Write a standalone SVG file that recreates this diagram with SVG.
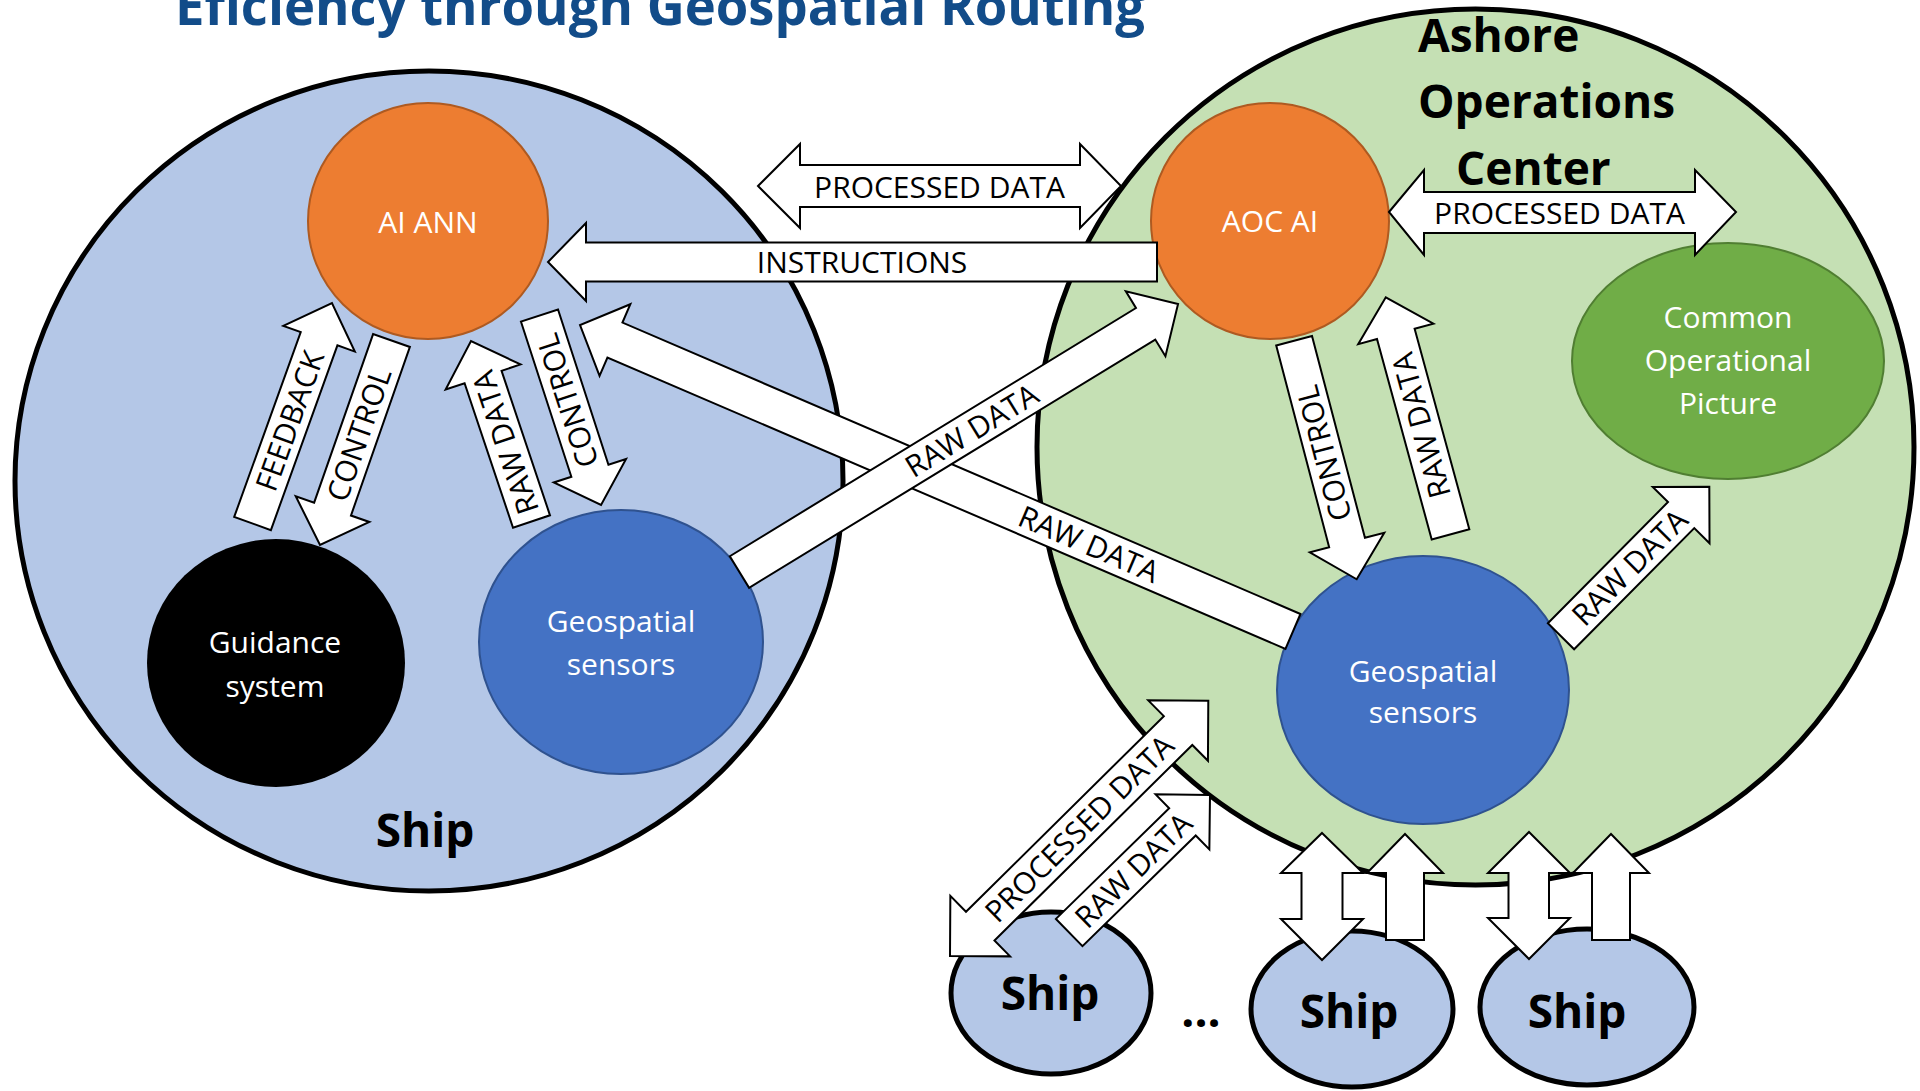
<svg xmlns="http://www.w3.org/2000/svg" width="1920" height="1091" viewBox="0 0 1920 1091">
<style>
.t{font-family:"Open Sans","Liberation Sans",sans-serif;font-size:30px;text-anchor:middle;fill:#000}
.w{fill:#fff}
.b{font-family:"Open Sans","Liberation Sans",sans-serif;font-weight:700;font-size:46px;fill:#000}
.ar{fill:#fff;stroke:#000;stroke-width:2;stroke-linejoin:miter}
.cont{stroke:#000;stroke-width:5}
.ship{fill:#B4C7E7}
.orange{fill:#ED7D31;stroke:#AE5A21;stroke-width:2}
.blue{fill:#4472C4;stroke:#2F528F;stroke-width:2}
</style>
<rect width="1920" height="1091" fill="#fff"/>
<text id="title" x="175" y="25" textLength="970" lengthAdjust="spacingAndGlyphs" style="font-family:'Open Sans','Liberation Sans',sans-serif;font-weight:700;font-size:53px;fill:#124C89">Eficiency through Geospatial Routing</text>

<g id="ship-main">
<ellipse cx="429" cy="481" rx="414" ry="410" class="cont ship"/>
<text x="425" y="847" class="b" text-anchor="middle">Ship</text>
</g>
<g id="aoc">
<ellipse cx="1475.5" cy="447" rx="438.5" ry="438" class="cont" fill="#C5E0B4"/>
<text class="b"><tspan x="1418" y="52">Ashore</tspan><tspan x="1418" y="118">Operations</tspan><tspan x="1456" y="185">Center</tspan></text>
</g>
<g id="ship-1">
<ellipse cx="1051" cy="993" rx="100" ry="81" class="cont ship"/>
<text x="1050" y="1010" class="b" text-anchor="middle">Ship</text>
</g>
<g id="ellipsis"><text x="1201" y="1027" class="b" text-anchor="middle">...</text></g>
<g id="ship-2">
<ellipse cx="1352" cy="1009" rx="101" ry="78" class="cont ship"/>
<text x="1349" y="1028" class="b" text-anchor="middle">Ship</text>
</g>
<g id="ship-3">
<ellipse cx="1587" cy="1007" rx="107" ry="78" class="cont ship"/>
<text x="1577" y="1028" class="b" text-anchor="middle">Ship</text>
</g>

<g id="ai-ann">
<ellipse cx="428" cy="221" rx="120" ry="118" class="orange"/>
<text x="428" y="233" class="t w">AI ANN</text>
</g>
<g id="guidance">
<ellipse cx="276" cy="663" rx="129" ry="124" fill="#000"/>
<text class="t w"><tspan x="275" y="653">Guidance</tspan><tspan x="275" y="697">system</tspan></text>
</g>
<g id="geo-ship">
<ellipse cx="621" cy="642" rx="142" ry="132" class="blue"/>
<text class="t w"><tspan x="621" y="632">Geospatial</tspan><tspan x="621" y="675">sensors</tspan></text>
</g>
<g id="aoc-ai">
<ellipse cx="1270" cy="221" rx="119" ry="118" class="orange"/>
<text x="1270" y="232" class="t w">AOC AI</text>
</g>
<g id="cop">
<ellipse cx="1728" cy="361" rx="156" ry="118" fill="#70AD47" stroke="#507E32" stroke-width="2"/>
<text class="t w"><tspan x="1728" y="328">Common</tspan><tspan x="1728" y="371">Operational</tspan><tspan x="1728" y="414">Picture</tspan></text>
</g>
<g id="geo-aoc">
<ellipse cx="1423" cy="690" rx="146" ry="134" class="blue"/>
<text class="t w"><tspan x="1423" y="682">Geospatial</tspan><tspan x="1423" y="723">sensors</tspan></text>
</g>

<g id="connectors">
<g>
<polygon class="ar" points="758,186 800,144 800,165 1080,165 1080,144 1121,186 1080,228 1080,207 800,207 800,228"/>
<text x="939.5" y="198" class="t">PROCESSED DATA</text>
</g>
<g>
<polygon class="ar" points="1157,242.5 586,242.5 586,223 548,262 586,301 586,281.5 1157,281.5"/>
<text x="862" y="273" class="t">INSTRUCTIONS</text>
</g>
<g transform="translate(936.5,478.25) rotate(23.26)">
<polygon class="ar" points="388,-19 -350,-19 -350,-39 -388,0 -350,39 -350,19 388,19"/>
<text x="166" y="11" class="t">RAW DATA</text>
</g>
<g transform="translate(958.75,438) rotate(-31.43)">
<polygon class="ar" points="-257,-18.5 219,-18.5 219,-38 257,0 219,38 219,18.5 -257,18.5"/>
<text x="15" y="11" class="t">RAW DATA</text>
</g>
<g transform="translate(292.25,413.25) rotate(-70.2)">
<polygon class="ar" points="-117.2,-19.5 79.2,-19.5 79.2,-38 117.2,0 79.2,38 79.2,19.5 -117.2,19.5"/>
<text x="-8" y="11" class="t">FEEDBACK</text>
</g>
<g transform="translate(355.75,442.75) rotate(-70.73)">
<polygon class="ar" points="108.3,-19.5 -70.3,-19.5 -70.3,-39 -108.3,0 -70.3,39 -70.3,19.5 108.3,19.5"/>
<text x="9" y="11" class="t">CONTROL</text>
</g>
<g transform="translate(501.25,431.25) rotate(-108.53)">
<polygon class="ar" points="-95.2,-19.5 57.2,-19.5 57.2,-39.5 95.2,0 57.2,39.5 57.2,19.5 -95.2,19.5"/>
<text x="-12" y="11" class="t">RAW DATA</text>
</g>
<g transform="translate(570.25,410.25) rotate(-108)">
<polygon class="ar" points="99.6,-19.5 -63.6,-19.5 -63.6,-38 -99.6,0 -63.6,38 -63.6,19.5 99.6,19.5"/>
<text x="10" y="11" class="t">CONTROL</text>
</g>
<g>
<polygon class="ar" points="1389,212 1424,170 1424,192 1695,192 1695,170 1736,212 1695,255 1695,233 1424,233 1424,255"/>
<text x="1559.5" y="224" class="t">PROCESSED DATA</text>
</g>
<g transform="translate(1325.4,460) rotate(-104.7)">
<polygon class="ar" points="123.3,-18.5 -85.3,-18.5 -85.3,-38.5 -123.3,0 -85.3,38.5 -85.3,18.5 123.3,18.5"/>
<text x="7" y="11" class="t">CONTROL</text>
</g>
<g transform="translate(1418.15,415.8) rotate(-105.27)">
<polygon class="ar" points="-122.85,-19.5 84.85,-19.5 84.85,-39 122.85,0 84.85,39 84.85,19.5 -122.85,19.5"/>
<text x="-10" y="11" class="t">RAW DATA</text>
</g>
<g transform="translate(1635.15,561.45) rotate(-45.23)">
<polygon class="ar" points="-105.3,-18.5 65.3,-18.5 65.3,-40 105.3,0 65.3,40 65.3,18.5 -105.3,18.5"/>
<text x="-8" y="11" class="t">RAW DATA</text>
</g>
<g transform="translate(1079.15,828.35) rotate(-44.67)">
<polygon class="ar" points="-181.6,0 -139.1,-42.5 -139.1,-20.25 139.1,-20.25 139.1,-42.5 181.6,0 139.1,42.5 139.1,20.25 -139.1,20.25 -139.1,42.5"/>
<text x="0" y="11" class="t">PROCESSED DATA</text>
</g>
<g transform="translate(1139.6,863.75) rotate(-44.32)">
<polygon class="ar" points="-98.4,-19 59.9,-19 59.9,-38.5 98.4,0 59.9,38.5 59.9,19 -98.4,19"/>
<text x="-9" y="11" class="t">RAW DATA</text>
</g>
<polygon class="ar" points="1322,833 1363,873 1342.5,873 1342.5,919 1363,919 1322,960 1281,919 1301.5,919 1301.5,873 1281,873"/>
<polygon class="ar" points="1405,834 1443,873 1424,873 1424,940 1386,940 1386,873 1367,873"/>
<polygon class="ar" points="1529,832 1570,873 1549,873 1549,918 1570,918 1529,959 1488,918 1508.5,918 1508.5,873 1488,873"/>
<polygon class="ar" points="1611,834 1649,873 1630,873 1630,940 1592,940 1592,873 1573,873"/>
</g>
</svg>
